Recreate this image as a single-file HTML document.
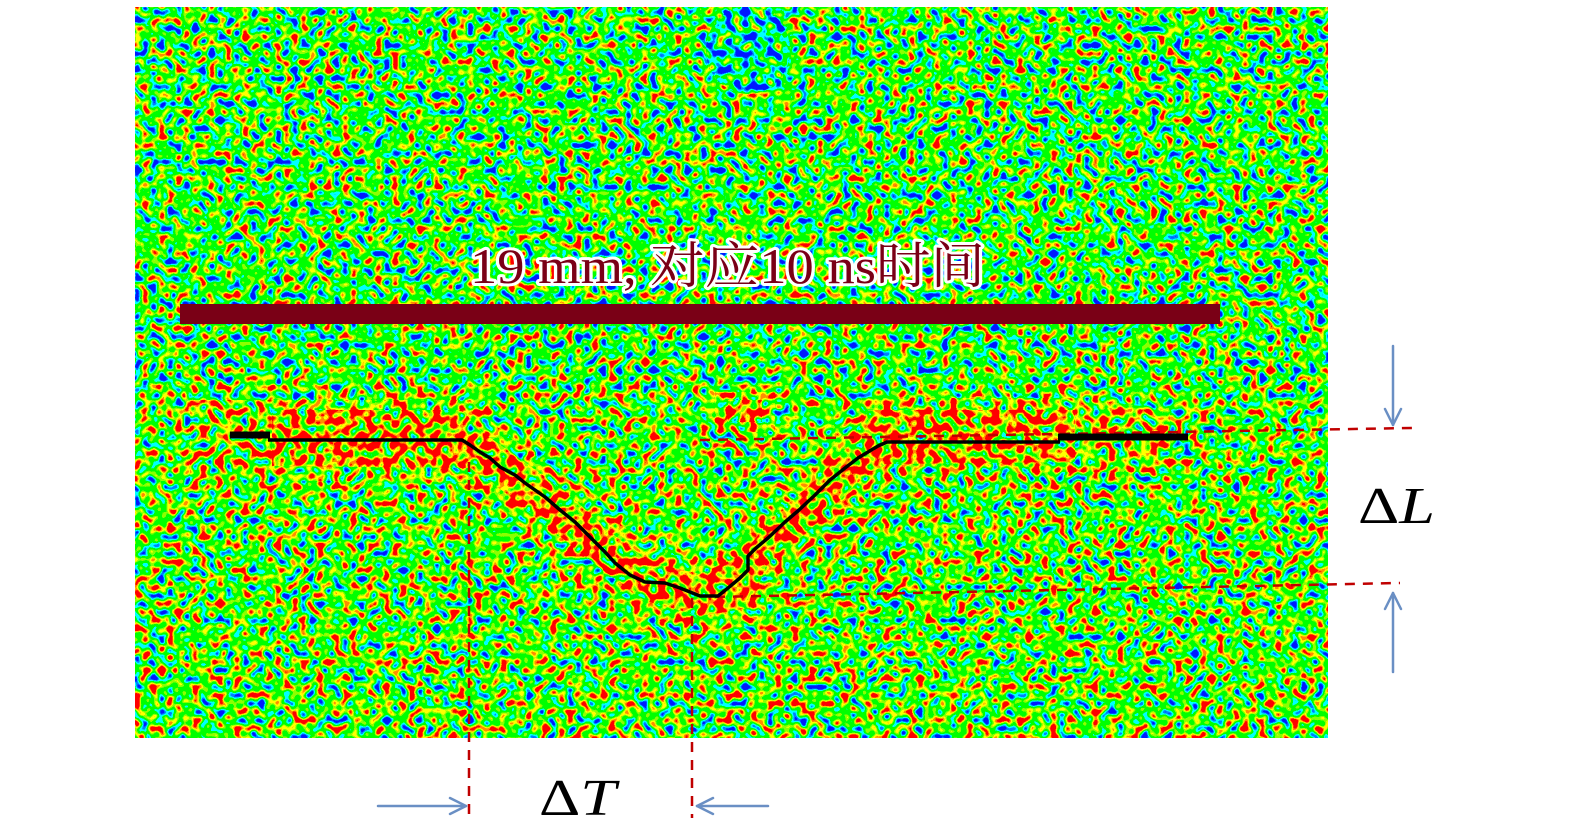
<!DOCTYPE html>
<html><head><meta charset="utf-8"><style>
html,body{margin:0;padding:0;background:#fff;}
svg{display:block;}
</style></head><body>
<svg width="1575" height="837" viewBox="0 0 1575 837" xmlns="http://www.w3.org/2000/svg">
<defs>
<filter id="nb" filterUnits="userSpaceOnUse" x="135" y="7" width="1193" height="731" color-interpolation-filters="sRGB">
 <feTurbulence type="fractalNoise" baseFrequency="0.12" numOctaves="1" seed="7" result="t"/>
 <feColorMatrix in="t" type="matrix" values="0.95 0 0 0 0.025  0.95 0 0 0 0.025  0.95 0 0 0 0.025  0 0 0 0 1"/>
 <feComponentTransfer>
  <feFuncR type="discrete" tableValues="0 0 0 0 0 0 0 0 0 0 0 0 0 0 0 0 0 0 0 0 0 0 0 0 0 0 0 0.55 0.55 1 1 1 1 1 1 1 1 1 1 1 1 1 1 1 1 1 1 1 1 1"/>
  <feFuncG type="discrete" tableValues="0.1 0.1 0.1 0.1 0.1 0.1 0.1 0.1 0.1 0.1 0.1 0.1 0.1 0.1 0.1 0.1 0.1 0.5 0.5 1 1 1 1 1 1 1 1 1 1 1 1 0.55 0.55 0 0 0 0 0 0 0 0 0 0 0 0 0 0 0 0 0"/>
  <feFuncB type="discrete" tableValues="1 1 1 1 1 1 1 1 1 1 1 1 1 1 1 1 1 1 1 1 1 1 0 0 0 0 0 0 0 0 0 0 0 0 0 0 0 0 0 0 0 0 0 0 0 0 0 0 0 0"/>
 </feComponentTransfer>
</filter>
<filter id="nl" filterUnits="userSpaceOnUse" x="135" y="7" width="1193" height="731" color-interpolation-filters="sRGB">
 <feTurbulence type="fractalNoise" baseFrequency="0.12" numOctaves="1" seed="7" result="t"/>
 <feColorMatrix in="t" type="matrix" values="0.95 0 0 0 0.045  0.95 0 0 0 0.045  0.95 0 0 0 0.045  0 0 0 0 1"/>
 <feComponentTransfer>
  <feFuncR type="discrete" tableValues="0 0 0 0 0 0 0 0 0 0 0 0 0 0 0 0 0 0 0 0 0 0 0 0 0 0 0 0.55 0.55 1 1 1 1 1 1 1 1 1 1 1 1 1 1 1 1 1 1 1 1 1"/>
  <feFuncG type="discrete" tableValues="0.1 0.1 0.1 0.1 0.1 0.1 0.1 0.1 0.1 0.1 0.1 0.1 0.1 0.1 0.1 0.1 0.1 0.5 0.5 1 1 1 1 1 1 1 1 1 1 1 1 0.55 0.55 0 0 0 0 0 0 0 0 0 0 0 0 0 0 0 0 0"/>
  <feFuncB type="discrete" tableValues="1 1 1 1 1 1 1 1 1 1 1 1 1 1 1 1 1 1 1 1 1 1 0 0 0 0 0 0 0 0 0 0 0 0 0 0 0 0 0 0 0 0 0 0 0 0 0 0 0 0"/>
 </feComponentTransfer>
</filter>
<filter id="nm" filterUnits="userSpaceOnUse" x="135" y="7" width="1193" height="731" color-interpolation-filters="sRGB">
 <feTurbulence type="fractalNoise" baseFrequency="0.12" numOctaves="1" seed="7" result="t"/>
 <feColorMatrix in="t" type="matrix" values="0.95 0 0 0 0.085  0.95 0 0 0 0.085  0.95 0 0 0 0.085  0 0 0 0 1"/>
 <feComponentTransfer>
  <feFuncR type="discrete" tableValues="0 0 0 0 0 0 0 0 0 0 0 0 0 0 0 0 0 0 0 0 0 0 0 0 0 0 0 0.55 0.55 1 1 1 1 1 1 1 1 1 1 1 1 1 1 1 1 1 1 1 1 1"/>
  <feFuncG type="discrete" tableValues="0.1 0.1 0.1 0.1 0.1 0.1 0.1 0.1 0.1 0.1 0.1 0.1 0.1 0.1 0.1 0.1 0.1 0.5 0.5 1 1 1 1 1 1 1 1 1 1 1 1 0.55 0.55 0 0 0 0 0 0 0 0 0 0 0 0 0 0 0 0 0"/>
  <feFuncB type="discrete" tableValues="1 1 1 1 1 1 1 1 1 1 1 1 1 1 1 1 1 1 1 1 1 1 0 0 0 0 0 0 0 0 0 0 0 0 0 0 0 0 0 0 0 0 0 0 0 0 0 0 0 0"/>
 </feComponentTransfer>
</filter>
<filter id="nh" filterUnits="userSpaceOnUse" x="135" y="7" width="1193" height="731" color-interpolation-filters="sRGB">
 <feTurbulence type="fractalNoise" baseFrequency="0.12" numOctaves="1" seed="7" result="t"/>
 <feColorMatrix in="t" type="matrix" values="0.95 0 0 0 0.145  0.95 0 0 0 0.145  0.95 0 0 0 0.145  0 0 0 0 1"/>
 <feComponentTransfer>
  <feFuncR type="discrete" tableValues="0 0 0 0 0 0 0 0 0 0 0 0 0 0 0 0 0 0 0 0 0 0 0 0 0 0 0 0.55 0.55 1 1 1 1 1 1 1 1 1 1 1 1 1 1 1 1 1 1 1 1 1"/>
  <feFuncG type="discrete" tableValues="0.1 0.1 0.1 0.1 0.1 0.1 0.1 0.1 0.1 0.1 0.1 0.1 0.1 0.1 0.1 0.1 0.1 0.5 0.5 1 1 1 1 1 1 1 1 1 1 1 1 0.55 0.55 0 0 0 0 0 0 0 0 0 0 0 0 0 0 0 0 0"/>
  <feFuncB type="discrete" tableValues="1 1 1 1 1 1 1 1 1 1 1 1 1 1 1 1 1 1 1 1 1 1 0 0 0 0 0 0 0 0 0 0 0 0 0 0 0 0 0 0 0 0 0 0 0 0 0 0 0 0"/>
 </feComponentTransfer>
</filter>
<filter id="nc" filterUnits="userSpaceOnUse" x="135" y="7" width="1193" height="731" color-interpolation-filters="sRGB">
 <feTurbulence type="fractalNoise" baseFrequency="0.12" numOctaves="1" seed="7" result="t"/>
 <feColorMatrix in="t" type="matrix" values="0.95 0 0 0 -0.045  0.95 0 0 0 -0.045  0.95 0 0 0 -0.045  0 0 0 0 1"/>
 <feComponentTransfer>
  <feFuncR type="discrete" tableValues="0 0 0 0 0 0 0 0 0 0 0 0 0 0 0 0 0 0 0 0 0 0 0 0 0 0 0 0.55 0.55 1 1 1 1 1 1 1 1 1 1 1 1 1 1 1 1 1 1 1 1 1"/>
  <feFuncG type="discrete" tableValues="0.1 0.1 0.1 0.1 0.1 0.1 0.1 0.1 0.1 0.1 0.1 0.1 0.1 0.1 0.1 0.1 0.1 0.5 0.5 1 1 1 1 1 1 1 1 1 1 1 1 0.55 0.55 0 0 0 0 0 0 0 0 0 0 0 0 0 0 0 0 0"/>
  <feFuncB type="discrete" tableValues="1 1 1 1 1 1 1 1 1 1 1 1 1 1 1 1 1 1 1 1 1 1 0 0 0 0 0 0 0 0 0 0 0 0 0 0 0 0 0 0 0 0 0 0 0 0 0 0 0 0"/>
 </feComponentTransfer>
</filter>
<clipPath id="lowc"><rect x="135" y="385" width="1193" height="353"/></clipPath>
<clipPath id="midc">
 <polygon points="190,400 470,400 495,425 535,455 580,488 622,525 660,552 700,562 738,545 768,508 812,468 848,430 862,398 1080,398 1170,410 1170,472 1060,472 890,476 868,492 820,540 778,575 760,625 700,632 635,614 590,580 548,545 498,505 462,482 190,480"/>
 <polygon points="715,392 775,392 775,432 715,432"/>
</clipPath>
<clipPath id="bandc">
 <polygon points="272,410 462,410 482,432 522,460 566,492 608,530 648,562 700,574 742,555 772,518 818,478 852,442 868,410 1075,410 1075,462 885,464 858,482 810,530 766,566 750,608 700,616 642,600 600,568 557,534 507,494 470,468 272,466"/>
 <polygon points="728,400 762,400 762,422 728,422"/>
</clipPath>
<clipPath id="cyc"><ellipse cx="748" cy="50" rx="42" ry="44"/></clipPath>
</defs>

<!-- heatmap background -->
<rect x="135" y="7" width="1193" height="731" fill="#40d445"/>
<rect x="135" y="7" width="1193" height="731" filter="url(#nb)"/>
<g clip-path="url(#lowc)"><rect x="135" y="7" width="1193" height="731" filter="url(#nl)"/></g>
<g clip-path="url(#midc)"><rect x="135" y="7" width="1193" height="731" filter="url(#nm)"/></g>
<g clip-path="url(#bandc)"><rect x="135" y="7" width="1193" height="731" filter="url(#nh)"/></g>
<g clip-path="url(#cyc)"><rect x="135" y="7" width="1193" height="731" filter="url(#nc)"/></g>

<!-- title text -->
<text x="470" y="283" textLength="515" lengthAdjust="spacingAndGlyphs" font-family="'Liberation Serif','Noto Serif CJK SC',serif" font-size="50" fill="#7a0016" stroke="#ffffff" stroke-width="6" stroke-linejoin="round" paint-order="stroke">19 mm, 对应10 ns时间</text>

<!-- bar -->
<rect x="180" y="304" width="1040" height="20" fill="#7a0016"/>

<!-- dashed guide lines -->
<g stroke="#c00000" stroke-width="2.5" stroke-dasharray="10 8" fill="none">
 <line x1="700" y1="440" x2="1412" y2="428"/>
 <line x1="715" y1="597" x2="1400" y2="583"/>
 <line x1="469" y1="462" x2="469" y2="818"/>
 <line x1="692" y1="598" x2="692" y2="818"/>
</g>

<!-- black curve -->
<line x1="230" y1="435" x2="270" y2="435" stroke="#000" stroke-width="7"/>
<polyline fill="none" stroke="#000" stroke-width="3.5" stroke-linejoin="round" points="268,440 462,440 470,445 480,452 490,458 500,467 515,475 525,483 545,497 560,510 575,522 590,537 605,552 615,563 630,575 645,582 665,583 680,588 690,592 700,596 718,596 728,588 740,578 748,570 748,556 756,548 768,538 785,522 799,510 815,495 830,480 845,468 858,458 868,452 878,446 887,442 1060,442"/>
<line x1="1058" y1="437" x2="1188" y2="437" stroke="#000" stroke-width="7"/>

<!-- arrows -->
<g stroke="#6a8fc4" stroke-width="2.5" fill="none" stroke-linecap="round" stroke-linejoin="round">
 <line x1="378" y1="806" x2="466" y2="806"/>
 <polyline points="450,798 466,806 450,814"/>
 <line x1="768" y1="806" x2="697" y2="806"/>
 <polyline points="713,798 697,806 713,814"/>
 <line x1="1393" y1="346" x2="1393" y2="425"/>
 <polyline points="1385,409 1393,425 1401,409"/>
 <line x1="1393" y1="672" x2="1393" y2="593"/>
 <polyline points="1385,609 1393,593 1401,609"/>
</g>

<!-- labels -->
<text x="1358" y="523" textLength="77" lengthAdjust="spacingAndGlyphs" font-family="'Liberation Serif',serif" font-size="52" fill="#000">Δ<tspan font-style="italic">L</tspan></text>
<text x="539" y="815" textLength="77" lengthAdjust="spacingAndGlyphs" font-family="'Liberation Serif',serif" font-size="52" fill="#000">Δ<tspan font-style="italic">T</tspan></text>
</svg>
</body></html>
